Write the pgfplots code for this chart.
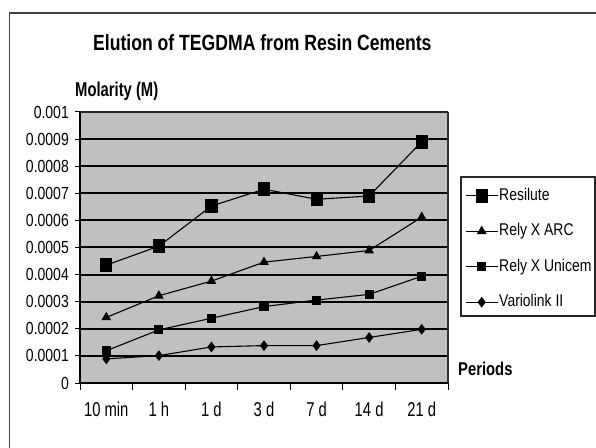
\documentclass[border=0pt]{standalone}
\usepackage{pgfplots}
\pgfplotsset{compat=1.18}
\usepackage{fontspec}
\setmainfont{Liberation Sans}[FakeStretch=0.84]
\newfontfamily\titlefont{Liberation Sans}[FakeStretch=0.80]
\newfontfamily\molfont{Liberation Sans}[FakeStretch=0.74]
\newfontfamily\perfont{Liberation Sans}[FakeStretch=0.80]
\newfontfamily\ytfont{Liberation Sans}[FakeStretch=0.80]
\newfontfamily\xtfont{Liberation Sans}[FakeStretch=0.74]
\newfontfamily\legfont{Liberation Sans}[FakeStretch=0.82]
\definecolor{plotbg}{HTML}{C0C0C0}
\begin{document}
\begin{tikzpicture}[x=1pt,y=1pt]
\useasboundingbox (0,0) rectangle (596,447);
\begin{scope}
\clip (0,0) rectangle (596,447);
\draw[line width=1.5pt, black!75] (9.5,-20) -- (9.5,434) -- (700,434);
\end{scope}
\begin{axis}[at={(80pt,64pt)}, anchor=south west, scale only axis,
  width=368pt, height=271pt,
  xmin=-0.5, xmax=6.5, ymin=0, ymax=0.001,
  xtick={0,1,2,3,4,5,6},
  xticklabels={10 min,1 h,1 d,3 d,7 d,14 d,21 d},
  minor xtick={-0.5,0.5,1.5,2.5,3.5,4.5,5.5,6.5},
  major x tick style={draw=none},
  minor tick length=7pt,
  major tick length=5pt,
  tick align=outside,
  tick style={black, line width=1pt},
  ytick={0,0.0001,0.0002,0.0003,0.0004,0.0005,0.0006,0.0007,0.0008,0.0009,0.001},
  yticklabels={0,0.0001,0.0002,0.0003,0.0004,0.0005,0.0006,0.0007,0.0008,0.0009,0.001},
  scaled y ticks=false,
  ymajorgrids,
  major grid style={black, line width=2pt},
  axis line style={black, line width=1.2pt},
  axis x line*=bottom, axis y line*=left,
  axis background/.style={fill=plotbg},
  xticklabel style={font=\xtfont\fontsize{20}{22}\selectfont, anchor=base, inner sep=0pt, yshift=-28pt},
  yticklabel style={font=\ytfont\fontsize{17.5}{19}\selectfont, anchor=east, inner sep=0pt, xshift=-6pt},
  /pgf/number format/assume math mode=true,
  clip=false,
  legend style={at={(axis description cs:1.046,0.7232)}, anchor=north west,
    draw=none, fill=none, font=\legfont\fontsize{17}{19}\selectfont,
    inner sep=0pt, row sep=18.5pt, column sep=1pt,
    nodes={inner sep=0pt, text height=13pt, text depth=4pt}},
  legend cell align=left,
  legend image code/.code={\draw[mark repeat=2,mark phase=2,#1] plot coordinates {(0pt,0pt) (16pt,0pt) (32pt,0pt)};},
]
\draw[black!80, line width=1.5pt] (rel axis cs:1,0) -- (rel axis cs:1,1);
\draw[black!85, line width=2pt] (rel axis cs:0,1) -- (rel axis cs:1,1);
\addplot[black, line width=1.1pt, mark=square*, mark size=6.5pt, mark options={solid, xscale=0.85}]
  coordinates {(0,0.000435) (1,0.000505) (2,0.000653) (3,0.000715) (4,0.000678) (5,0.00069) (6,0.00089)};
\addlegendentry{Resilute}
\addplot[black, line width=1.1pt, mark=triangle*, mark size=4.5pt, mark options={solid}]
  coordinates {(0,0.000242) (1,0.000322) (2,0.000376) (3,0.000446) (4,0.000467) (5,0.000489) (6,0.000612)};
\addlegendentry{Rely X ARC}
\addplot[black, line width=1.1pt, mark=square*, mark size=4pt, mark options={solid}]
  coordinates {(0,0.000119) (1,0.000196) (2,0.000239) (3,0.000282) (4,0.000306) (5,0.000327) (6,0.000394)};
\addlegendentry{Rely X Unicem}
\addplot[black, line width=1.1pt, mark=diamond*, mark size=4.5pt, mark options={solid}]
  coordinates {(0,0.000089) (1,0.000101) (2,0.000133) (3,0.000138) (4,0.000138) (5,0.000168) (6,0.000198)};
\addlegendentry{Variolink II}
\end{axis}
\draw[line width=1.5pt, black!85] (461,270) rectangle (595,131);
\node[anchor=base west, inner sep=0pt, font=\titlefont\bfseries\fontsize{22}{24}\selectfont] at (93,396) {Elution of TEGDMA from Resin Cements};
\node[anchor=base west, inner sep=0pt, font=\molfont\bfseries\fontsize{20}{22}\selectfont] at (75,350) {Molarity (M)};
\node[anchor=base west, inner sep=0pt, font=\perfont\bfseries\fontsize{18.5}{20}\selectfont] at (458,72) {Periods};
\end{tikzpicture}
\end{document}
